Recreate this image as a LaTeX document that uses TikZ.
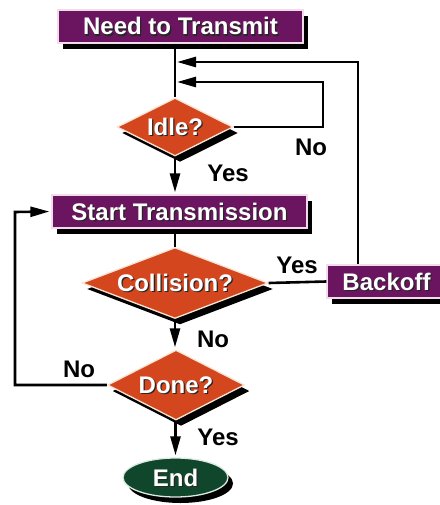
\documentclass[tikz,border=0pt]{standalone}
\usepackage{fontspec}
\setmainfont{Liberation Sans}
\usetikzlibrary{shapes.geometric,shadows,arrows.meta}

\definecolor{boxpurple}{HTML}{6B1460}
\definecolor{decorange}{HTML}{D4461E}
\definecolor{endgreen}{HTML}{10472C}
\definecolor{rimpurple}{HTML}{F2DCEC}
\definecolor{rimorange}{HTML}{F8E4D4}
\definecolor{rimgreen}{HTML}{DDEBE2}

% white caption with a small dark offset copy behind it
\newcommand\shtxt[1]{\rlap{\kern1.3pt\raisebox{-1.3pt}{\color{black!85}#1}}{\color{white}#1}}

\begin{document}
\begin{tikzpicture}[x=1pt,y=-1pt,
  font=\fontsize{24}{28}\selectfont\bfseries,
  shade/.style={drop shadow={shadow xshift=5pt,shadow yshift=-6pt,fill=black,opacity=1}},
  procbox/.style={rectangle,fill=boxpurple,draw=rimpurple,line width=1.3pt,
    inner sep=0pt,text height=17pt,text depth=0pt,shade},
  decision/.style={diamond,fill=decorange,draw=rimorange,line width=1.3pt,
    inner sep=0pt,text height=17pt,text depth=0pt,shade},
  terminal/.style={ellipse,fill=endgreen,draw=rimgreen,line width=1.3pt,
    inner sep=0pt,text height=17pt,text depth=0pt,shade},
  lbl/.style={inner sep=0pt,text height=17.5pt,text depth=0pt,text=black},
  conn/.style={line width=2.6pt,draw=black},
  arr/.style={conn,-{Triangle[length=19pt,width=10pt]},shorten >=2pt}]

\useasboundingbox (0,0) rectangle (439,505);

% flowchart nodes
\node[procbox,minimum width=245pt,minimum height=33pt] (need) at (180.5,26.5) {\shtxt{Need to Transmit}};
\node[decision,aspect=2,minimum width=116pt,minimum height=58pt] (idle) at (175,127) {\shtxt{Idle?}};
\node[procbox,minimum width=255pt,minimum height=33pt] (start) at (179.5,211.5) {\shtxt{Start Transmission}};
\node[decision,aspect=2.62,minimum width=186pt,minimum height=71pt] (coll) at (175,283) {\shtxt{Collision?}};
\node[procbox,minimum width=119pt,minimum height=33pt] (backoff) at (386.5,281.5) {\shtxt{Backoff}};
\node[decision,aspect=1.96,minimum width=137pt,minimum height=70pt] (done) at (176,385) {\shtxt{Done?}};
\node[terminal,minimum width=105pt,minimum height=39pt] (end) at (175.5,477.5) {\shtxt{End}};

% routing points of the loops
\coordinate (trunk) at (175,0);
\coordinate (iloop) at (323,82);
\coordinate (rloop) at (358,62);
\coordinate (dloop) at (15,212);

% connectors
\draw[conn] (need.south -| trunk) -- (idle.north);
\draw[arr] (idle.east) -| (iloop) -- (iloop -| trunk);
\draw[arr] (backoff.north -| rloop) -- (rloop) -- (rloop -| trunk);
\draw[arr] (idle.south) -- (start.north -| idle.south);
\draw[conn] (start.south -| coll.north) -- (coll.north);
\draw[conn] (coll.east) -- (backoff.west);
\draw[arr] (coll.south) -- (done.north -| coll.south);
\draw[arr] (done.west) -| (dloop) -- (start.west);
\draw[arr] (done.south -| end.north) -- (end.north);

% branch labels
\node[lbl] (l1) at (311,147) {No};
\node[lbl] (l2) at (228,173) {Yes};
\node[lbl] (l3) at (297,265) {Yes};
\node[lbl] (l4) at (213,339) {No};
\node[lbl] (l5) at (79,369) {No};
\node[lbl] (l6) at (218,437) {Yes};
\end{tikzpicture}
\end{document}
